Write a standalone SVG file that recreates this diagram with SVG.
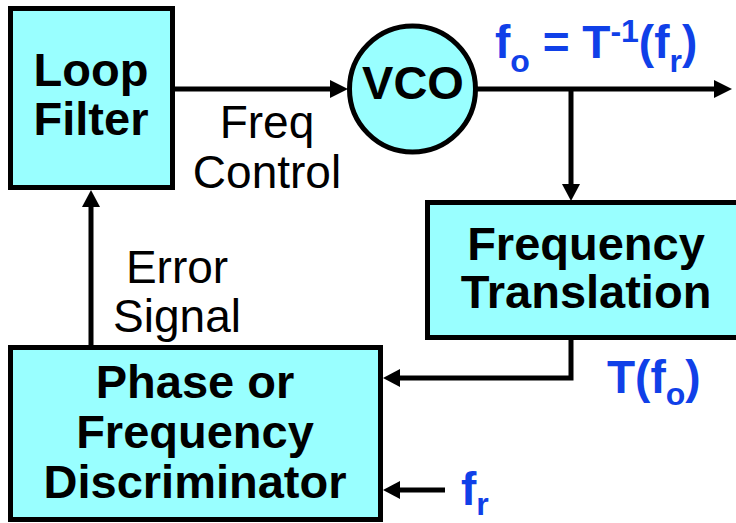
<svg xmlns="http://www.w3.org/2000/svg" width="736" height="523" viewBox="0 0 736 523">
<defs>
<style>
.box{fill:#99FFFF;stroke:#000;stroke-width:5}
.wire{fill:none;stroke:#000;stroke-width:5}
.head{fill:#000}
.bold{font-family:"Liberation Sans",Arial,sans-serif;font-weight:bold;font-size:47px;fill:#000;text-anchor:middle}
.lbl{font-family:"Liberation Sans",Arial,sans-serif;font-size:46px;fill:#000;text-anchor:middle}
.blue{font-family:"Liberation Sans",Arial,sans-serif;font-weight:bold;font-size:46px;fill:#1040E8}
.sub{font-size:32px}
</style>
</defs>
<rect width="736" height="523" fill="#fff"/>
<g id="connectors">
<line class="wire" x1="173" y1="89" x2="332" y2="89"/>
<polygon class="head" points="348,89 330,80 330,98"/>
<line class="wire" x1="475" y1="89" x2="716" y2="89"/>
<polygon class="head" points="732,89 714,80 714,98"/>
<line class="wire" x1="571" y1="89" x2="571" y2="186"/>
<polygon class="head" points="571,201 562,184 580,184"/>
<polyline class="wire" points="571,338 571,378 398,378"/>
<polygon class="head" points="383,378 400,369 400,387"/>
<line class="wire" x1="445" y1="490" x2="398" y2="490"/>
<polygon class="head" points="383,490 400,481 400,499"/>
<line class="wire" x1="91" y1="346" x2="91" y2="204"/>
<polygon class="head" points="91,190 82,207 100,207"/>
</g>
<g id="loop-filter">
<rect class="box" x="10.5" y="8.5" width="162" height="179"/>
<text class="bold" x="91" y="86">Loop</text>
<text class="bold" x="91" y="135">Filter</text>
</g>
<g id="vco">
<circle class="box" cx="412.5" cy="89" r="63"/>
<text class="bold" x="413" y="99">VCO</text>
</g>
<g id="freq-translation">
<rect class="box" x="427.5" y="202.5" width="320" height="135"/>
<text class="bold" x="586" y="260">Frequency</text>
<text class="bold" x="586" y="308">Translation</text>
</g>
<g id="discriminator">
<rect class="box" x="10.5" y="347.5" width="370" height="172"/>
<text class="bold" x="195" y="398">Phase or</text>
<text class="bold" x="195" y="448">Frequency</text>
<text class="bold" x="195" y="498">Discriminator</text>
</g>
<g id="labels">
<text class="lbl" x="267" y="138">Freq</text>
<text class="lbl" x="267" y="188">Control</text>
<text class="lbl" x="177" y="283">Error</text>
<text class="lbl" x="177" y="332">Signal</text>
<text class="blue" x="495" y="58">f<tspan class="sub" dy="14">o</tspan><tspan dy="-14"> = T</tspan><tspan class="sub" dy="-16">-1</tspan><tspan dy="16">(f</tspan><tspan class="sub" dy="14">r</tspan><tspan dy="-14">)</tspan></text>
<text class="blue" x="607" y="393">T(f<tspan class="sub" dy="12">o</tspan><tspan dy="-12">)</tspan></text>
<text class="blue" x="461" y="505">f<tspan class="sub" dy="10">r</tspan></text>
</g>
</svg>
